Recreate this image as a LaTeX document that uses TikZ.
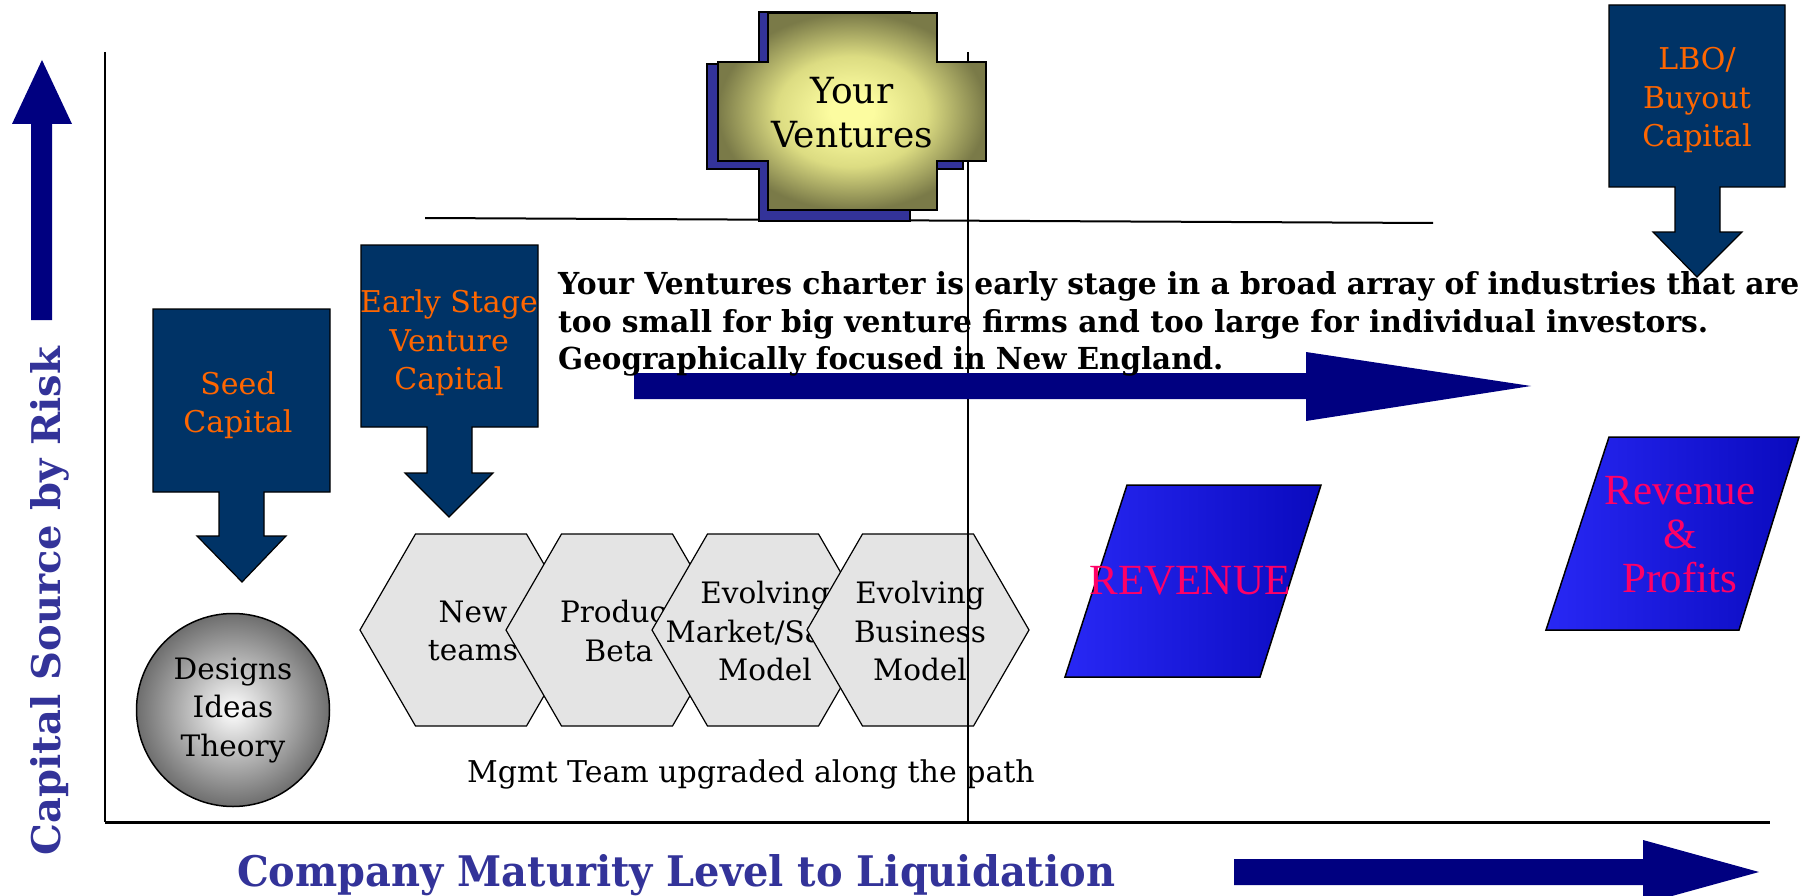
\documentclass[tikz,border=0pt]{standalone}
\usepackage{fontspec}
\setmainfont{DejaVu Serif}
\newfontfamily\libser{Liberation Serif}
\usetikzlibrary{shapes.geometric}
\definecolor{navybox}{RGB}{0,51,102}
\definecolor{navyarrow}{RGB}{0,0,128}
\definecolor{orangetxt}{RGB}{255,102,0}
\definecolor{labelblue}{RGB}{51,51,153}
\definecolor{pinktxt}{RGB}{255,0,102}
\definecolor{crossin}{RGB}{252,252,160}
\definecolor{crossmid}{RGB}{220,220,130}
\definecolor{crossout}{RGB}{122,122,72}
\definecolor{ballout}{RGB}{110,110,110}
\definecolor{parlight}{RGB}{40,40,245}
\definecolor{pardark}{RGB}{10,10,190}
\definecolor{hexfill}{RGB}{228,228,228}
\pgfdeclareradialshading{crossshade}{\pgfpoint{0bp}{0bp}}{color(0bp)=(crossin); color(4bp)=(crossin); color(14bp)=(crossmid); color(25bp)=(crossout); color(50bp)=(crossout)}
\tikzset{
  callout/.style={draw=black, line width=1.2pt, fill=navybox},
  callouttxt/.style={text=orangetxt, align=center, font=\fontsize{30}{38.5}\selectfont, inner sep=0pt},
  bigarrow/.style={fill=navyarrow, draw=none},
  hexshape/.style={draw=black, line width=1.2pt, fill=hexfill},
  hextxt/.style={align=center, font=\fontsize{29.5}{38.5}\selectfont, inner sep=0pt},
  parshape/.style={draw=black, line width=1.5pt, left color=parlight, right color=pardark},
  partxt/.style={text=pinktxt, align=center, font=\libser\fontsize{43}{44}\selectfont, inner sep=0pt},
  axisline/.style={draw=black, line width=2pt},
  boldline/.style={anchor=base west, inner sep=0pt, font=\bfseries},
}
\begin{document}
\begin{tikzpicture}[x=1pt, y=-1pt]
\useasboundingbox (0,0) rectangle (1812,896);
\fill[white] (0,0) rectangle (1812,896);

% hexagons (drawn first, later ones overlap earlier)
\foreach \cx/\txt/\nm in {471/{New\\teams}/h1, 617/{Product\\Beta}/h2, 763/{Evolving\\Market/Sales\\Model}/h3, 918/{Evolving\\Business\\Model}/h4}{
  \path[hexshape] (\cx-111,630) -- (\cx-55.5,534) -- (\cx+55.5,534) -- (\cx+111,630) -- (\cx+55.5,726) -- (\cx-55.5,726) -- cycle;
  \node[hextxt] (\nm) at (\cx+2,631) {\txt};
}

% axes and guide lines
\coordinate (axtop) at (105,52);
\coordinate (axorig) at (105,822);
\coordinate (axright) at (1770,822);
\coordinate (midtop) at (968,52);
\coordinate (midbot) at (968,822);
\coordinate (hl) at (425,218);
\coordinate (hr) at (1433,223);
\draw[axisline] (axtop) -- (axorig);
\draw[black, line width=3pt] (axorig) -- (axright);
\draw[black, line width=1.2pt] (midtop) -- (midbot);
\draw[black, line width=2pt] (hl) -- (hr);

% Your Ventures cross
\path[fill=labelblue, draw=black, line width=1.5pt]
  (759,12) -- (910,12) -- (910,64) -- (963,64) -- (963,169) -- (910,169) -- (910,221) -- (759,221) -- (759,169) -- (707,169) -- (707,64) -- (759,64) -- cycle;
\path[draw=black, line width=1.5pt, shading=crossshade]
  (768,13) -- (937,13) -- (937,62) -- (986,62) -- (986,161) -- (937,161) -- (937,210) -- (768,210) -- (768,161) -- (718,161) -- (718,62) -- (768,62) -- cycle;
\node[align=center, font=\fontsize{36}{44}\selectfont, inner sep=0pt] (yv) at (852,113) {Your\\Ventures};

% left up arrow
\path[bigarrow] (31,320) -- (31,124) -- (12,124) -- (42,60) -- (72,124) -- (52,124) -- (52,320) -- cycle;

% middle right arrow
\path[bigarrow] (634,373) -- (1306,373) -- (1306,352) -- (1531,386) -- (1306,421) -- (1306,399) -- (634,399) -- cycle;

% bottom right arrow
\path[bigarrow] (1234,859) -- (1643,859) -- (1643,840) -- (1759,872) -- (1643,904) -- (1643,885) -- (1234,885) -- cycle;

% callouts
\path[callout] (153,309) -- (330,309) -- (330,492) -- (264,492) -- (264,536) -- (286,536) -- (242,582) -- (197,536) -- (219,536) -- (219,492) -- (153,492) -- cycle;
\node[callouttxt] (seed) at (238,405) {Seed\\Capital};

\path[callout] (361,245) -- (538,245) -- (538,427) -- (472,427) -- (472,473) -- (493,473) -- (449,517) -- (405,473) -- (427,473) -- (427,427) -- (361,427) -- cycle;
\node[callouttxt] (early) at (449,343) {Early Stage\\Venture\\Capital};

\path[callout] (1609,5) -- (1785,5) -- (1785,187) -- (1720,187) -- (1720,232) -- (1742,232) -- (1697,277) -- (1653,232) -- (1675,232) -- (1675,187) -- (1609,187) -- cycle;
\node[callouttxt] (lbo) at (1697,100) {LBO/\\Buyout\\Capital};

% designs circle
\path[draw=black, line width=1.5pt, shading=radial, inner color=white, outer color=ballout] (233,710) circle (96.5);
\node[hextxt] (ideas) at (233,710) {Designs\\Ideas\\Theory};

% parallelograms
\path[parshape] (1127,485) -- (1321,485) -- (1260,677) -- (1065,677) -- cycle;
\node[partxt] (rev) at (1190,581) {REVENUE};
\path[parshape] (1609,437) -- (1799,437) -- (1739,630) -- (1546,630) -- cycle;
\node[partxt] (revp) at (1680,535) {Revenue\\\&\\Profits};

% charter text
\node[boldline] (l1) at (558,294) {\resizebox{1241pt}{23pt}{Your Ventures charter is early stage in a broad array of industries that are}};
\node[boldline] (l2) at (558,332) {\resizebox{1150pt}{23pt}{too small for big venture firms and too large for individual investors.}};
\node[boldline] (l3) at (558,369) {\resizebox{665pt}{23pt}{Geographically focused in New England.}};

% mgmt text
\node[anchor=base, inner sep=0pt, font=\fontsize{30}{36}\selectfont] (mgmt) at (751,782) {Mgmt Team upgraded along the path};

% axis labels
\node[anchor=base west, inner sep=0pt, text=labelblue, font=\bfseries] (xlab) at (237,886) {\resizebox{878pt}{32pt}{Company Maturity Level to Liquidation}};
\node[anchor=base, inner sep=0pt, text=labelblue, font=\bfseries, rotate=90] (ylab) at (60,601) {\resizebox{508pt}{30pt}{Capital Source by Risk}};
\end{tikzpicture}
\end{document}
